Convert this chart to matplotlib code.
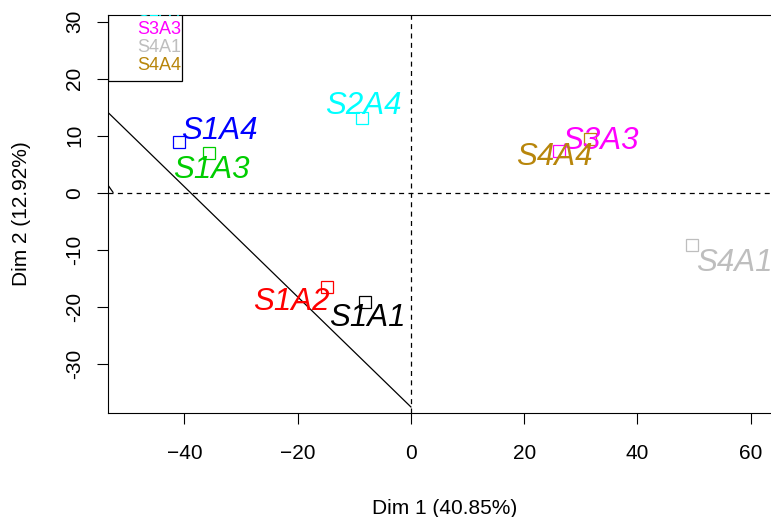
import matplotlib
matplotlib.use("Agg")
import matplotlib.pyplot as plt
from matplotlib.patches import Rectangle

plt.rcParams['font.family'] = ['Liberation Sans', 'DejaVu Sans']

# individuals on the first factorial plane
names = ["S1A1", "S1A2", "S1A3", "S1A4", "S2A4", "S3A3", "S4A1", "S4A4"]
colors = ["black", "red", "#00CD00", "blue", "cyan", "magenta", "#BEBEBE", "#B8860B"]
dim1 = [-8.1, -14.9, -35.7, -40.9, -8.7, 26.2, 49.7, 31.7]
dim2 = [-19.1, -16.5, 7.0, 8.9, 13.1, 7.3, -9.2, 9.4]
# where each label was put (left edge, vertical centre)
lab_x = [-14.4, -27.9, -42.0, -40.6, -15.2, 26.7, 50.4, 18.6]
lab_y = [-22.0, -19.2, 4.0, 10.8, 15.2, 9.1, -12.3, 6.3]

# the two partial lines crossing the plot
line_x = [[-60, 0], [-56, -52.6]]
line_y = [[20.36, -37.56], [4.9, 0.07]]

xticks = [-40, -20, 0, 20, 40, 60]
yticks = [-30, -20, -10, 0, 10, 20, 30]

W, H = 771, 517
fig = plt.figure(figsize=(W / 100, H / 100), dpi=100)
ax_l, ax_r, ax_t, ax_b = 107.5, 782.5, 15, 412.5
ax = fig.add_axes([ax_l / W, 1 - ax_b / H, (ax_r - ax_l) / W, (ax_b - ax_t) / H])
ax.set_xlim(-53.57, 65.6)
ax.set_ylim(-38.53, 31.15)

ax.axhline(0, color="black", lw=0.9, ls=(0, (4, 3.5)))
ax.axvline(0, color="black", lw=0.9, ls=(0, (4, 3.5)))
for xs, ys in zip(line_x, line_y):
    ax.plot(xs, ys, color="black", lw=0.9)

for i in range(len(names)):
    ax.plot(dim1[i], dim2[i], marker="s", ms=9, mfc="none", mec=colors[i], mew=0.9)
    ax.text(lab_x[i], lab_y[i], names[i], color=colors[i], fontsize=22.5,
            style="italic", ha="left", va="center", clip_on=True)

# legend box, mostly pushed above the plotting region
aw, ah = ax_r - ax_l, ax_b - ax_t
step = 18
for i, n in enumerate(names):
    py = 65.5 - step * (len(names) - 1 - i)
    ax.text((137 - ax_l) / aw, (ax_b - py) / ah, n, color=colors[i], fontsize=13,
            ha="left", va="center", transform=ax.transAxes, clip_on=True)
box_top = 65.5 - step * len(names)
ax.add_patch(Rectangle(((108 - ax_l) / aw, (ax_b - 81) / ah), (182 - 108) / aw, (81 - box_top) / ah,
                       transform=ax.transAxes, fill=False, ec="black", lw=0.9, clip_on=True))

ax.set_xticks(xticks)
ax.set_yticks(yticks)
ax.set_yticklabels([str(t) for t in yticks], rotation=90, va="center")
ax.tick_params(axis="both", length=8, width=0.8, labelsize=15, color="black")
ax.tick_params(axis="x", pad=15)
ax.tick_params(axis="y", pad=9)
for s in ax.spines.values():
    s.set_linewidth(0.8)

fig.text(445 / W, 1 - 508 / H, "Dim 1 (40.85%)", fontsize=15, ha="center", va="center")
fig.text(22 / W, 1 - 213.7 / H, "Dim 2 (12.92%)", fontsize=15, ha="center", va="center", rotation=90)

fig.savefig("out.png", dpi=100)
